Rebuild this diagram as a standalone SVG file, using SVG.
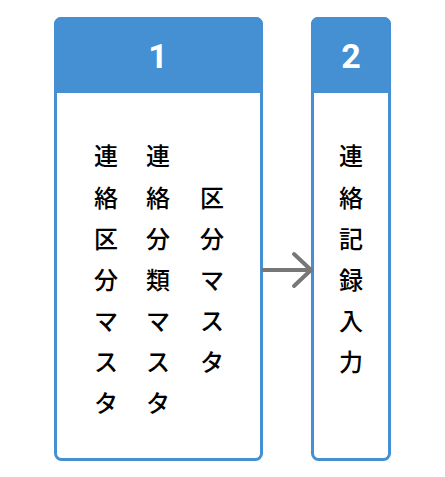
<svg xmlns="http://www.w3.org/2000/svg" width="445" height="477" viewBox="0 0 445 477">
<style>
.box{fill:#fff;stroke:#4490d3;stroke-width:3}
.hdr{fill:#4490d3}
.num{font-family:Roboto,"Noto Sans","Noto Sans CJK JP",sans-serif;font-weight:bold;font-size:34px;fill:#fff;text-anchor:middle}
.ch{font-family:"Noto Sans CJK JP",sans-serif;font-size:24px;font-weight:500;fill:#000;text-anchor:middle;dominant-baseline:central}
.conn{fill:none;stroke:#777;stroke-width:4;stroke-linecap:round;stroke-linejoin:round}
</style>
<g id="node1">
<rect class="box" x="55.5" y="18.5" width="206" height="441" rx="6"/>
<path class="hdr" d="M54,93 V24 a7,7 0 0 1 7,-7 H256 a7,7 0 0 1 7,7 V93 Z"/>
<text class="num" x="158" y="68">1</text>
<g class="ch">
<text x="106" y="154">連</text><text x="106" y="196">絡</text><text x="106" y="237">区</text><text x="106" y="278">分</text><text x="106" y="319">マ</text><text x="106" y="360">ス</text><text x="106" y="401">タ</text>
<text x="158" y="154">連</text><text x="158" y="196">絡</text><text x="158" y="237">分</text><text x="158" y="278">類</text><text x="158" y="319">マ</text><text x="158" y="360">ス</text><text x="158" y="401">タ</text>
<text x="212" y="196">区</text><text x="212" y="237">分</text><text x="212" y="278">マ</text><text x="212" y="319">ス</text><text x="212" y="360">タ</text>
</g>
</g>
<g id="node2">
<rect class="box" x="312.5" y="18.5" width="77" height="441" rx="6"/>
<path class="hdr" d="M311,93 V24 a7,7 0 0 1 7,-7 H384 a7,7 0 0 1 7,7 V93 Z"/>
<text class="num" x="351" y="68">2</text>
<g class="ch">
<text x="351" y="154">連</text><text x="351" y="196">絡</text><text x="351" y="237">記</text><text x="351" y="278">録</text><text x="351" y="319">入</text><text x="351" y="360">力</text>
</g>
</g>
<g id="connectors">
<path class="conn" d="M263,270 H311 M294,254 L311,270 L294,286"/>
</g>
</svg>
